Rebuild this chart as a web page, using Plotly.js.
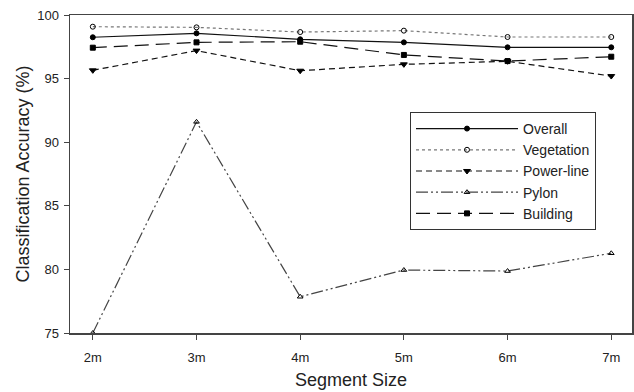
<!DOCTYPE html>
<html><head><meta charset="utf-8">
<script src="https://cdn.plot.ly/plotly-3.0.1.min.js"></script>
<style>html,body{margin:0;padding:0;background:#fff}#c{width:634px;height:392px}</style>
</head><body><div id="c"></div>
<script>
var segments = [2, 3, 4, 5, 6, 7];
var tickLabels = ['2m', '3m', '4m', '5m', '6m', '7m'];
var overall = [98.25, 98.56, 98.09, 97.85, 97.46, 97.46];
var vegetation = [99.08, 99.03, 98.66, 98.77, 98.27, 98.27];
var powerline = [95.65, 97.2, 95.62, 96.12, 96.36, 95.2];
var pylon = [75.0, 91.6, 77.85, 79.95, 79.87, 81.27];
var building = [97.43, 97.85, 97.9, 96.86, 96.38, 96.72];

function tr(name, y, dash, sym, col, msize) {
  return {x: segments, y: y, name: name, type: 'scatter', mode: 'lines+markers',
    line: {color: col, width: 1.2, dash: dash},
    marker: {symbol: sym, size: msize, color: '#000', line: {color: '#000', width: 1}},
    cliponaxis: false};
}
var data = [
  tr('Overall', overall, 'solid', 'circle', '#111', 5),
  tr('Vegetation', vegetation, 'dot', 'circle-open', '#777', 5),
  tr('Power-line', powerline, '6px,4px', 'triangle-down', '#111', 6),
  tr('Pylon', pylon, '12px,3px,2px,3px,2px,3px', 'triangle-up-open', '#444', 5),
  tr('Building', building, '14px,7px', 'square', '#111', 5)
];
var layout = {
  width: 634, height: 392,
  margin: {l: 70, r: 2, t: 15, b: 59},
  paper_bgcolor: '#fff', plot_bgcolor: '#fff',
  font: {family: 'Liberation Sans, Arial, sans-serif', color: '#222', size: 13},
  showlegend: true,
  legend: {x: 0.605, y: 0.695, xanchor: 'left', yanchor: 'top', bordercolor: '#333', borderwidth: 1,
    bgcolor: '#fff', font: {size: 14}, itemwidth: 102, tracegroupgap: 0},
  xaxis: {range: [1.78, 7.2], tickvals: segments, ticktext: tickLabels, showgrid: false, zeroline: false,
    showline: true, linecolor: '#444', linewidth: 1.5, mirror: true, ticks: 'outside', ticklen: 5,
    tickcolor: '#444', tickfont: {size: 13}, ticklabelstandoff: 7,
    title: {text: 'Segment Size', font: {size: 18}, standoff: 9}},
  yaxis: {range: [75, 100], tickvals: [75, 80, 85, 90, 95, 100], showgrid: false, zeroline: false,
    showline: true, linecolor: '#444', linewidth: 1.5, mirror: true, ticks: 'outside', ticklen: 5,
    tickcolor: '#444', tickfont: {size: 13}, ticklabelstandoff: 2,
    title: {text: 'Classification Accuracy (%)', font: {size: 18}, standoff: 3}}
};
Plotly.newPlot('c', data, layout, {staticPlot: true});
</script></body></html>
